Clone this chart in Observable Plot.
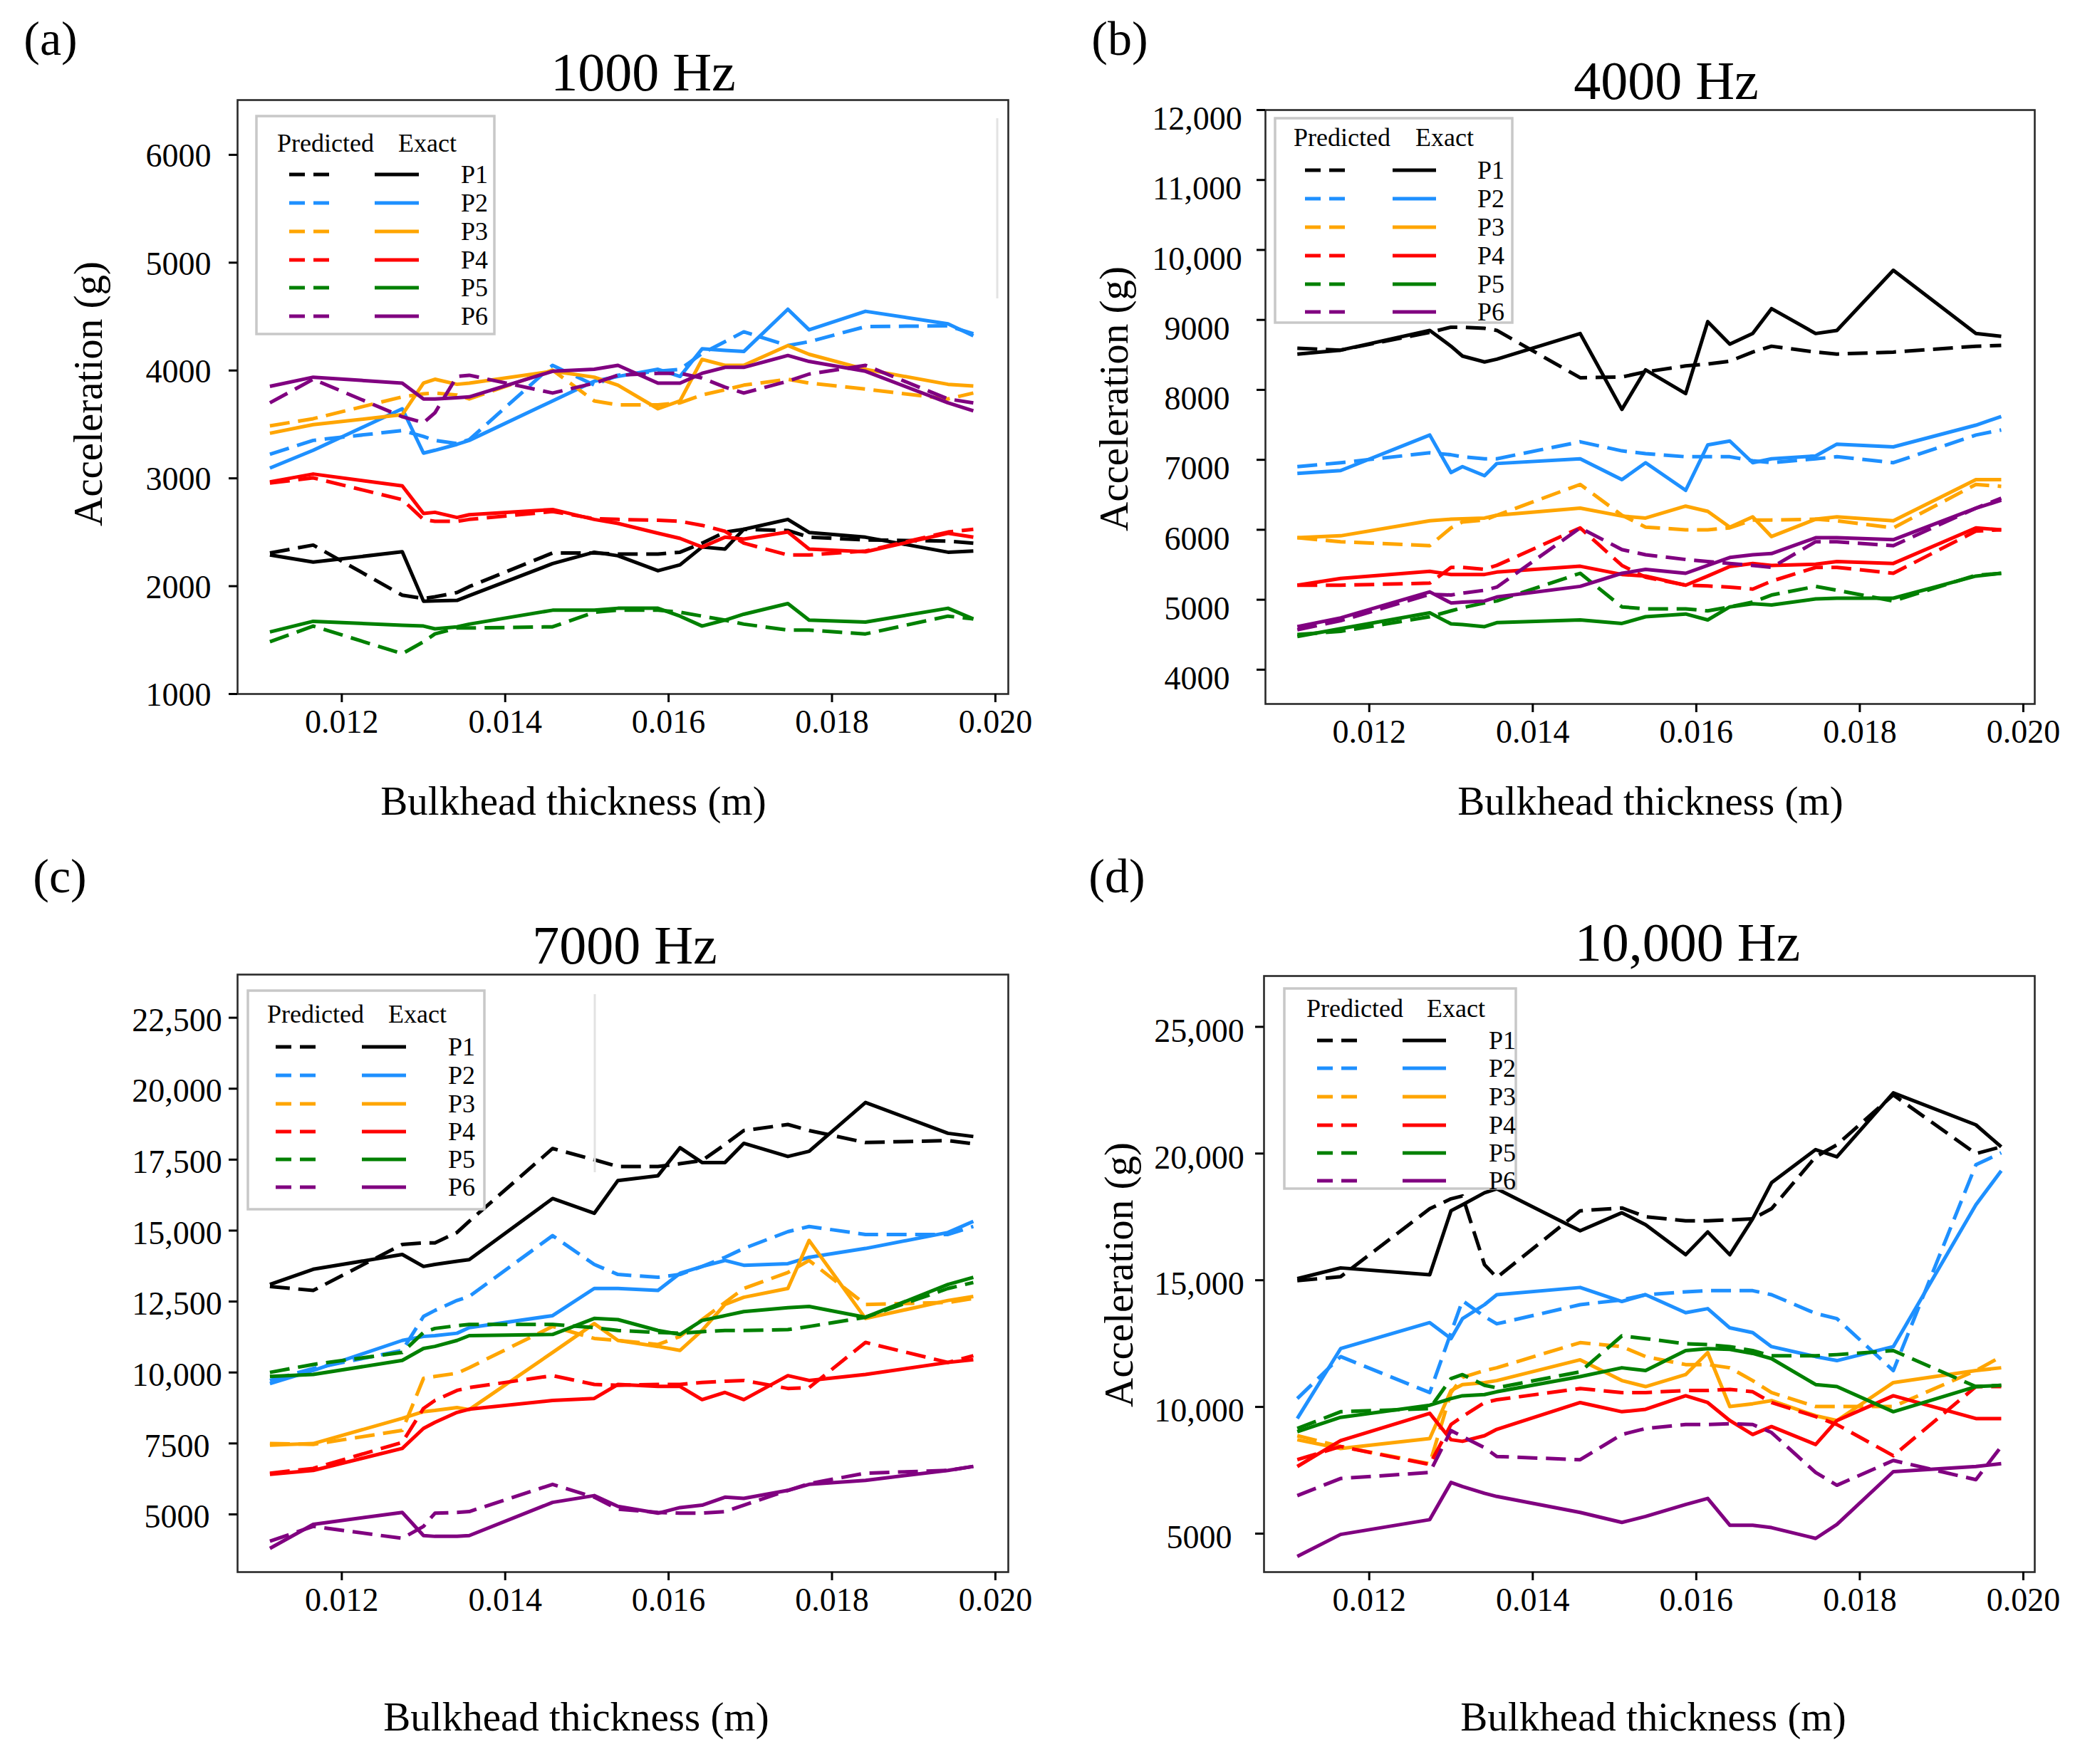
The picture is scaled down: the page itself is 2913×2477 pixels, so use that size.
<!DOCTYPE html>
<html><head><meta charset="utf-8">
<script src="https://cdn.jsdelivr.net/npm/d3@7"></script>
<script src="https://cdn.jsdelivr.net/npm/@observablehq/plot@0.6"></script>
<style>
body{margin:0;background:#fff;}
#page{position:relative;width:2913px;height:2477px;background:#fff;overflow:hidden;font-family:"Liberation Serif","Times New Roman",serif;}
</style></head><body><div id="page"></div>
<script>
// ---- shared x values (bulkhead thickness, m) ----
const thickness = [0.01112,0.01165,0.01274,0.01300,0.01314,0.01341,0.01356,0.01458,0.01509,0.01538,0.01587,0.01614,0.01641,0.01669,0.01692,0.01746,0.01772,0.01841,0.01942,0.01973];
const xTicks = [0.012,0.014,0.016,0.018,0.020];
const pointNames = ["P1","P2","P3","P4","P5","P6"];
const pointColors = ["#000000","#1e90ff","#ffa500","#ff0000","#008000","#800080"];

// ---- 1000 Hz ----
const hz1000_exact_P1 = [2289,2223,2319,1861,1864,1868,1912,2209,2315,2282,2143,2198,2363,2344,2527,2619,2498,2454,2315,2326];
const hz1000_pred_P1  = [2308,2381,1916,1886,1901,1941,1996,2308,2308,2297,2297,2315,2399,2502,2527,2516,2454,2429,2418,2399];
const hz1000_exact_P2 = [3095,3260,3645,3234,3260,3315,3352,3718,3901,3945,4011,3945,4201,4187,4176,4568,4377,4549,4432,4322];
const hz1000_pred_P2  = [3223,3352,3443,3388,3352,3322,3359,4048,3865,3956,3993,4011,4158,4267,4359,4231,4267,4407,4414,4341];
const hz1000_exact_P3 = [3418,3498,3590,3883,3919,3872,3883,3993,3938,3864,3645,3718,4103,4048,4048,4231,4150,4011,3872,3857];
const hz1000_pred_P3  = [3487,3553,3755,3784,3791,3773,3736,4004,3718,3681,3681,3700,3773,3821,3864,3919,3883,3828,3736,3791];
const hz1000_exact_P4 = [2967,3040,2930,2674,2685,2637,2663,2711,2619,2582,2491,2443,2363,2454,2436,2502,2344,2319,2491,2454];
const hz1000_pred_P4  = [2956,3004,2802,2619,2601,2601,2619,2692,2626,2619,2612,2601,2564,2509,2399,2289,2289,2326,2502,2527];
const hz1000_exact_P5 = [1575,1674,1637,1630,1604,1623,1648,1777,1777,1795,1795,1722,1630,1685,1740,1839,1685,1667,1795,1696];
const hz1000_pred_P5  = [1484,1630,1374,1484,1557,1612,1612,1623,1758,1777,1777,1758,1722,1685,1648,1593,1593,1557,1722,1696];
const hz1000_exact_P6 = [3853,3938,3883,3736,3736,3747,3755,3993,4011,4048,3883,3883,3974,4029,4029,4139,4084,3993,3700,3626];
const hz1000_pred_P6  = [3700,3919,3571,3516,3608,3945,3956,3791,3883,3956,3974,3974,3930,3846,3791,3901,3967,4048,3736,3700];

// ---- 4000 Hz ----
const hz4000_exact_P1 = [8512,8568,8850,8624,8483,8399,8438,8805,7721,8286,7947,8975,8653,8805,9161,8805,8850,9709,8805,8766];
const hz4000_pred_P1  = [8596,8568,8822,8896,8896,8879,8850,8173,8184,8257,8342,8370,8410,8540,8624,8540,8512,8540,8624,8636];
const hz4000_exact_P2 = [6806,6846,7354,6818,6902,6772,6947,7015,6716,6959,6564,7213,7269,6959,7015,7055,7224,7185,7495,7619];
const hz4000_pred_P2  = [6902,6959,7100,7072,7044,7015,7015,7258,7128,7089,7044,7044,7044,6987,6959,7015,7044,6959,7354,7427];
const hz4000_exact_P3 = [5886,5914,6129,6151,6157,6168,6208,6309,6196,6168,6338,6264,6038,6185,5903,6151,6185,6129,6716,6716];
const hz4000_pred_P3  = [5886,5829,5773,6027,6112,6140,6208,6648,6208,6038,5999,5999,6027,6140,6140,6151,6129,6027,6648,6620];
const hz4000_exact_P4 = [5208,5304,5406,5361,5361,5361,5395,5479,5361,5338,5208,5338,5474,5519,5491,5508,5547,5519,6027,5999];
const hz4000_pred_P4  = [5208,5208,5237,5462,5462,5434,5491,6027,5491,5321,5208,5197,5180,5152,5265,5462,5462,5378,5982,5999];
const hz4000_exact_P5 = [4474,4587,4813,4655,4644,4615,4672,4711,4661,4757,4796,4711,4898,4943,4926,5011,5022,5022,5338,5378];
const hz4000_pred_P5  = [4503,4548,4757,4841,4886,4954,4982,5378,4898,4870,4870,4841,4898,4966,5067,5191,5135,4982,5350,5378];
const hz4000_exact_P6 = [4615,4740,5112,4954,4966,4982,5039,5191,5378,5434,5378,5491,5604,5643,5660,5886,5886,5858,6309,6422];
const hz4000_pred_P6  = [4570,4700,5078,5067,5095,5135,5180,6027,5717,5643,5575,5547,5519,5491,5462,5829,5829,5773,6309,6451];

// ---- 7000 Hz ----
const hz7000_exact_P1 = [13102,13637,14159,13736,13806,13919,13975,16131,15610,16765,16934,17920,17399,17399,18076,17611,17794,19513,18428,18315];
const hz7000_pred_P1  = [13031,12890,14511,14567,14567,14933,15328,17892,17497,17258,17258,17357,17470,18033,18526,18738,18526,18104,18174,18061];
const hz7000_exact_P2 = [9607,10072,11129,11270,11298,11383,11580,12003,12961,12961,12890,13496,13736,13947,13778,13834,14060,14370,14933,15328];
const hz7000_pred_P2  = [9720,10143,10777,11975,12186,12538,12679,14821,13806,13454,13355,13454,13736,14060,14370,14962,15145,14863,14863,15145];
const hz7000_exact_P3 = [7438,7494,8382,8621,8663,8762,8692,10706,11721,11129,10918,10777,11481,12397,12651,12961,14652,11904,12538,12679];
const hz7000_pred_P3  = [7494,7466,7959,9791,9861,9974,10171,11622,11200,11129,10988,11270,11862,12467,12961,13524,13947,12397,12467,12609];
const hz7000_exact_P4 = [6409,6550,7325,8029,8241,8593,8706,9016,9086,9579,9509,9509,9044,9297,9044,9889,9720,9932,10354,10453];
const hz7000_pred_P4  = [6451,6620,7536,8734,9016,9368,9467,9889,9579,9551,9579,9579,9650,9692,9720,9438,9467,11059,10354,10594];
const hz7000_exact_P5 = [9861,9932,10425,10847,10918,11129,11298,11341,11904,11862,11481,11341,11834,12003,12144,12284,12327,11946,13102,13355];
const hz7000_pred_P5  = [10002,10284,10706,11411,11552,11650,11693,11693,11580,11481,11411,11383,11439,11481,11481,11510,11622,11946,12961,13172];
const hz7000_exact_P6 = [3802,4648,5070,4253,4225,4225,4253,5423,5662,5282,5042,5240,5324,5606,5564,5845,6057,6198,6550,6691];
const hz7000_pred_P6  = [4056,4577,4155,4577,5042,5070,5099,6057,5606,5183,5070,5042,5042,5099,5324,5845,6085,6451,6550,6691];

// ---- 10,000 Hz ----
const hz10000_exact_P1 = [15061,15487,15219,17742,17979,18452,18610,16954,17664,17190,16007,16906,16007,17427,18846,20155,19871,22394,21133,20265];
const hz10000_pred_P1  = [14982,15140,17821,18215,18326,15613,15108,17742,17853,17506,17348,17348,17379,17427,17821,19871,20344,22315,19997,20265];
const hz10000_exact_P2 = [9542,12302,13327,12696,13484,14036,14430,14714,14162,14430,13721,13878,13122,12932,12380,11986,11828,12380,17979,19319];
const hz10000_pred_P2  = [10330,11986,10567,12932,14194,13563,13279,14036,14225,14430,14541,14588,14588,14588,14430,13689,13484,11434,19556,20029];
const hz10000_exact_P3 = [8706,8359,8753,10646,10882,10961,11040,11860,11040,10803,11276,12144,10015,10125,10251,9652,9463,10961,11434,11545];
const hz10000_pred_P3  = [8864,8438,7760,10567,11166,11434,11545,12538,12380,11986,11671,11671,11545,11040,10567,10015,10015,10015,11434,11986];
const hz10000_exact_P4 = [7649,8674,9747,8706,8643,8864,9116,10173,9810,9905,10441,10173,9463,8911,9226,8517,9463,10441,9542,9542];
const hz10000_pred_P4  = [7917,8438,7728,9305,9621,10173,10283,10725,10567,10567,10646,10646,10693,10598,10173,9621,9305,8075,10803,10803];
const hz10000_exact_P5 = [9022,9590,10068,10330,10441,10488,10598,11198,11545,11434,12223,12302,12270,12112,11907,10882,10803,9810,10803,10851];
const hz10000_pred_P5  = [9148,9810,9936,11119,11277,10851,10756,11387,12806,12696,12491,12459,12380,12223,12018,12018,12065,12223,10803,10851];
const hz10000_exact_P6 = [4101,4968,5552,7019,6861,6593,6467,5836,5442,5678,6151,6388,5331,5331,5237,4811,5363,7444,7649,7760];
const hz10000_pred_P6  = [6498,7176,7413,9069,8832,8391,8044,7917,8911,9148,9305,9305,9337,9305,8990,7413,6908,7886,7129,8438];

// ---- axis ticks ----
const yTicks1000 = [1000,2000,3000,4000,5000,6000];
const yTicks4000 = [4000,5000,6000,7000,8000,9000,10000,11000,12000];
const yTicks7000 = [5000,7500,10000,12500,15000,17500,20000,22500];
const yTicks10000 = [5000,10000,15000,20000,25000];

const FONT = '"Liberation Serif","Times New Roman",serif';
const yFmt = d => d >= 10000 ? d3.format(",")(d) : d3.format("d")(d);

const panels = [
  {label:"(a)", title:"1000 Hz", frame:{l:333,t:140,r:1415,b:974}, xDomain:[0.010724,0.020158], yDomain:[1000,6508], yTicks:yTicks1000, yPad:71, yDy:2,
   exact:[hz1000_exact_P1,hz1000_exact_P2,hz1000_exact_P3,hz1000_exact_P4,hz1000_exact_P5,hz1000_exact_P6],
   pred:[hz1000_pred_P1,hz1000_pred_P2,hz1000_pred_P3,hz1000_pred_P4,hz1000_pred_P5,hz1000_pred_P6],
   labelPos:[71,77], titlePos:[903,127], yLabel:[143,553], xLabel:[805,1144],
   legend:{x:360,y:163,w:334,h:306,predX:389,exactX:559,head:213,d1:406,d2:462,s1:526,s2:588,px:647,rows:[245,285,325,365,404,444]}},
  {label:"(b)", title:"4000 Hz", frame:{l:1776,t:154,r:2856,b:988}, xDomain:[0.010730,0.020140], yDomain:[3510,12000], yTicks:yTicks4000, yPad:84, yDy:13,
   exact:[hz4000_exact_P1,hz4000_exact_P2,hz4000_exact_P3,hz4000_exact_P4,hz4000_exact_P5,hz4000_exact_P6],
   pred:[hz4000_pred_P1,hz4000_pred_P2,hz4000_pred_P3,hz4000_pred_P4,hz4000_pred_P5,hz4000_pred_P6],
   labelPos:[1572,77], titlePos:[2339,139], yLabel:[1583,560], xLabel:[2317,1144],
   legend:{x:1790,y:166,w:333,h:287,predX:1816,exactX:1987,head:205,d1:1832,d2:1889,s1:1955,s2:2016,px:2074,rows:[239,279,319,359,399,438]}},
  {label:"(c)", title:"7000 Hz", frame:{l:333,t:1368,r:1415,b:2207}, xDomain:[0.010724,0.020158], yDomain:[2967,24021], yTicks:yTicks7000, yPad:73, yDy:4,
   exact:[hz7000_exact_P1,hz7000_exact_P2,hz7000_exact_P3,hz7000_exact_P4,hz7000_exact_P5,hz7000_exact_P6],
   pred:[hz7000_pred_P1,hz7000_pred_P2,hz7000_pred_P3,hz7000_pred_P4,hz7000_pred_P5,hz7000_pred_P6],
   labelPos:[84,1253], titlePos:[877,1353], yLabel:null, xLabel:[809,2430],
   legend:{x:348,y:1391,w:332,h:307,predX:375,exactX:545,head:1436,d1:387,d2:444,s1:508,s2:570,px:629,rows:[1470,1510,1550,1589,1628,1667]}},
  {label:"(d)", title:"10,000 Hz", frame:{l:1774,t:1370,r:2856,b:2207}, xDomain:[0.010713,0.020140], yDomain:[3482,27007], yTicks:yTicks10000, yPad:79, yDy:6,
   exact:[hz10000_exact_P1,hz10000_exact_P2,hz10000_exact_P3,hz10000_exact_P4,hz10000_exact_P5,hz10000_exact_P6],
   pred:[hz10000_pred_P1,hz10000_pred_P2,hz10000_pred_P3,hz10000_pred_P4,hz10000_pred_P5,hz10000_pred_P6],
   labelPos:[1568,1253], titlePos:[2369,1349], yLabel:[1590,1790], xLabel:[2321,2430],
   legend:{x:1803,y:1388,w:325,h:281,predX:1834,exactX:2003,head:1428,d1:1849,d2:1905,s1:1969,s2:2030,px:2090,rows:[1461,1500,1540,1580,1619,1658]}}
];

const page = document.getElementById("page");
const ML = 230, MR = 30, MT = 30, MB = 100;

panels.forEach(p => {
  const fw = p.frame.r - p.frame.l, fh = p.frame.b - p.frame.t;
  const marks = [];
  p.pred.forEach((vals, i) => {
    marks.push(Plot.line(vals, {x: thickness, y: d => d, stroke: pointColors[i], strokeWidth: 5,
      strokeDasharray: "28,12", strokeLinecap: "butt", strokeLinejoin: "round"}));
    marks.push(Plot.line(p.exact[i], {x: thickness, y: d => d, stroke: pointColors[i], strokeWidth: 5,
      strokeLinecap: "butt", strokeLinejoin: "round"}));
  });
  marks.push(Plot.frame({stroke: "#2a2a2a", strokeWidth: 2.6}));
  marks.push(Plot.axisX({ticks: xTicks, tickFormat: d3.format(".3f"), tickSize: 12, tickPadding: 10,
    strokeWidth: 3, label: null, fontSize: 46}));
  // y tick marks (no text)
  marks.push(Plot.axisY({ticks: p.yTicks, tickFormat: () => "", tickSize: 12, strokeWidth: 3, label: null}));
  // y tick labels (centered, slightly offset as in the original)
  marks.push(Plot.axisY({ticks: p.yTicks, tickFormat: yFmt, tickSize: 0, tickPadding: p.yPad + 12,
    textAnchor: "middle", dy: p.yDy, label: null, fontSize: 46}));
  const svg = Plot.plot({
    width: fw + ML + MR, height: fh + MT + MB,
    marginLeft: ML, marginRight: MR, marginTop: MT, marginBottom: MB,
    x: {domain: p.xDomain}, y: {domain: p.yDomain},
    style: {fontFamily: FONT, fontSize: "46px", background: "transparent", color: "#000", overflow: "visible"},
    marks
  });
  svg.style.position = "absolute";
  svg.style.left = (p.frame.l - ML) + "px";
  svg.style.top = (p.frame.t - MT) + "px";
  page.appendChild(svg);
});

// ---- overlay: titles, labels, legends ----
const ov = d3.select(page).append("svg")
  .attr("width", 2913).attr("height", 2477)
  .style("position", "absolute").style("left", "0px").style("top", "0px")
  .style("font-family", FONT);

// faint artifact lines present in the original figure
ov.append("line").attr("x1",1400).attr("x2",1400).attr("y1",166).attr("y2",419).attr("stroke","#e2e2e2").attr("stroke-width",3);
ov.append("line").attr("x1",835).attr("x2",835).attr("y1",1396).attr("y2",1646).attr("stroke","#e2e2e2").attr("stroke-width",3);

panels.forEach(p => {
  ov.append("text").attr("x", p.labelPos[0]).attr("y", p.labelPos[1]).attr("text-anchor","middle")
    .attr("font-size", 68).text(p.label);
  ov.append("text").attr("x", p.titlePos[0]).attr("y", p.titlePos[1]).attr("text-anchor","middle")
    .attr("font-size", 76).text(p.title);
  ov.append("text").attr("x", p.xLabel[0]).attr("y", p.xLabel[1]).attr("text-anchor","middle")
    .attr("font-size", 57).text("Bulkhead thickness (m)");
  if (p.yLabel) {
    ov.append("text").attr("transform", `translate(${p.yLabel[0]},${p.yLabel[1]}) rotate(-90)`)
      .attr("text-anchor","middle").attr("font-size", 57).text("Acceleration (g)");
  }
  const L = p.legend;
  ov.append("rect").attr("x", L.x).attr("y", L.y).attr("width", L.w).attr("height", L.h)
    .attr("fill", "white").attr("fill-opacity", 0.85).attr("stroke", "#c8c8c8").attr("stroke-width", 3.5);
  ov.append("text").attr("x", L.predX).attr("y", L.head).attr("font-size", 36).text("Predicted");
  ov.append("text").attr("x", L.exactX).attr("y", L.head).attr("font-size", 36).text("Exact");
  L.rows.forEach((ry, i) => {
    ov.append("line").attr("x1", L.d1).attr("x2", L.d2).attr("y1", ry).attr("y2", ry)
      .attr("stroke", pointColors[i]).attr("stroke-width", 5).attr("stroke-dasharray", "22,12");
    ov.append("line").attr("x1", L.s1).attr("x2", L.s2).attr("y1", ry).attr("y2", ry)
      .attr("stroke", pointColors[i]).attr("stroke-width", 5);
    ov.append("text").attr("x", L.px).attr("y", ry + 12).attr("font-size", 36).text(pointNames[i]);
  });
});
</script>
</body></html>
